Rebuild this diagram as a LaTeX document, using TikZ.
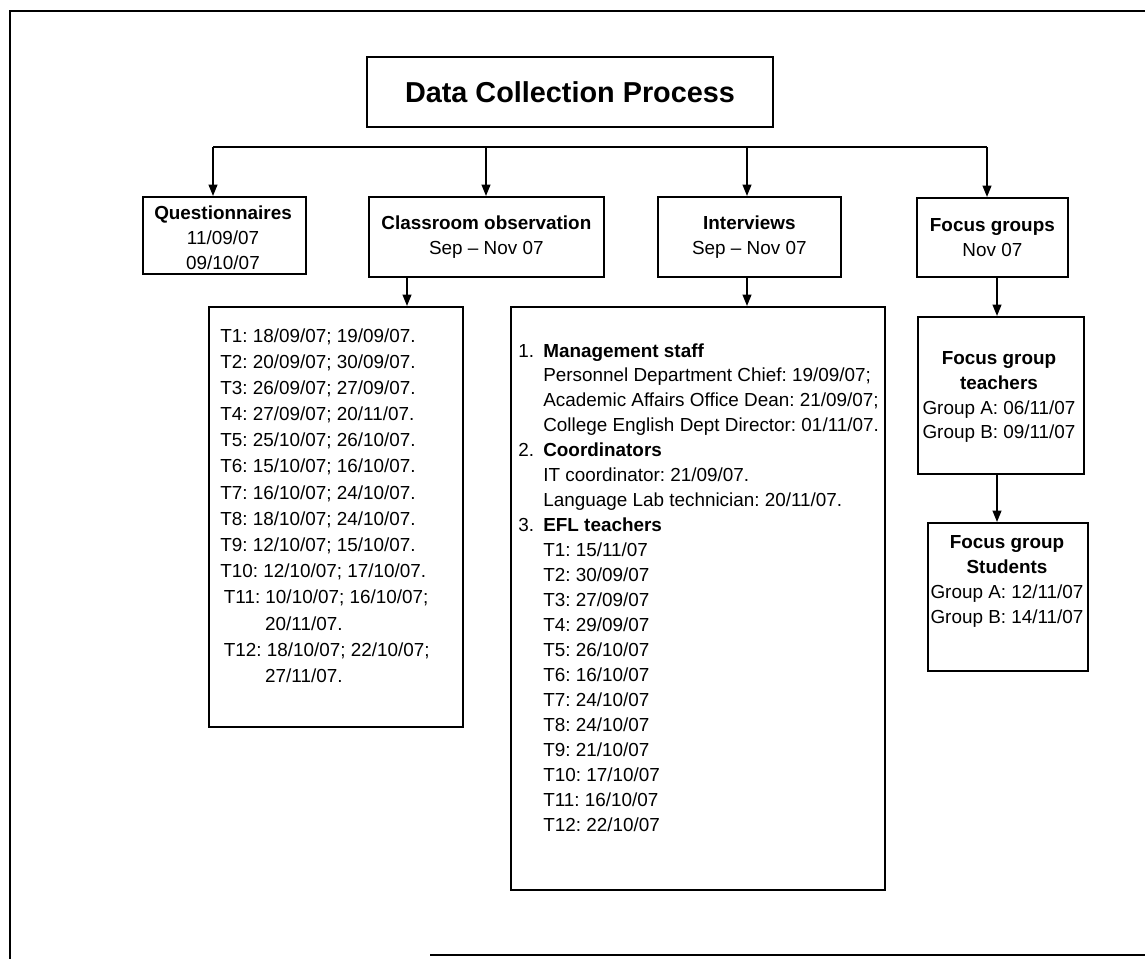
\documentclass[tikz,border=0pt]{standalone}
\usepackage{fontspec}
\setmainfont{Liberation Sans}
\usetikzlibrary{arrows.meta}
\frenchspacing
\begin{document}
\begin{tikzpicture}[x=0.02cm,y=-0.02cm,
  every node/.style={font=\fontsize{10.75}{14.2}\selectfont\frenchspacing},
  box/.style={draw,line width=1pt,inner sep=0pt,anchor=north west,align=center},
  conn/.style={line width=1pt},
  arr/.style={line width=1pt,-{Triangle[length=6.5pt,width=5pt]}},
  lst/.style={align=left,anchor=north west,inner sep=0pt},
  frame/.style={line width=1.4pt}]
\useasboundingbox (0,0) rectangle (1145,959);
% outer frame (cropped)
\draw[frame] (1145,11) -- (10,11) -- (10,959);
\draw[frame] (430,955) -- (1145,955);

% title
\node[draw,line width=1pt,minimum width=8.12cm,minimum height=1.4cm,inner sep=0pt,
      font=\fontsize{16.4}{20}\selectfont\bfseries] (title) at (570,92) {Data Collection Process};

% second-level boxes
\node[box,minimum width=3.26cm,minimum height=1.54cm] (q) at (142,196) {};
\node[align=center,inner sep=0pt] (qt) at (223,238)
  {\textbf{Questionnaires}\\11/09/07\\09/10/07};
\node[box,minimum width=4.70cm,minimum height=1.6cm] (cl) at (368,196)
  {\textbf{Classroom observation}\\Sep -- Nov 07};
\node[box,minimum width=3.66cm,minimum height=1.6cm] (iv) at (657,196)
  {\textbf{Interviews}\\Sep -- Nov 07};
\node[box,minimum width=3.02cm,minimum height=1.58cm] (fg) at (916,197)
  {\textbf{Focus groups}\\Nov 07};

% bar and arrows
\coordinate (b1) at (213,147);
\coordinate (b2) at (486,147);
\coordinate (b3) at (747,147);
\coordinate (b4) at (987,147);
\draw[conn] (b1) -- (b4);
\draw[arr] (b1) -- (b1 |- q.north);
\draw[arr] (b2) -- (b2 |- cl.north);
\draw[arr] (b3) -- (b3 |- iv.north);
\draw[arr] (b4) -- (b4 |- fg.north);

% list boxes
\node[box,minimum width=5.08cm,minimum height=8.4cm] (cll) at (208,306) {};
\node[box,minimum width=7.48cm,minimum height=11.66cm] (ivl) at (510,306) {};
\node[box,minimum width=3.32cm,minimum height=3.14cm] (fgt) at (917,316) {};
\node[align=center,inner sep=0pt] (fgtt) at (999,397)
  {\textbf{Focus group}\\\textbf{teachers}\\Group A: 06/11/07\\Group B: 09/11/07};
\node[box,minimum width=3.2cm,minimum height=2.96cm] (fgs) at (927,522) {};

\coordinate (ca) at (407,0);
\coordinate (ia) at (747,0);
\coordinate (fa) at (997,0);
\draw[arr] (ca |- cl.south) -- (ca |- cll.north);
\draw[arr] (ia |- iv.south) -- (ia |- ivl.north);
\draw[arr] (fa |- fg.south) -- (fa |- fgt.north);
\draw[arr] (fa |- fgt.south) -- (fa |- fgs.north);

% list texts
\node[lst,font=\fontsize{10.75}{14.9}\selectfont\frenchspacing] (clt) at (220,328) {%
T1: 18/09/07; 19/09/07.\\
T2: 20/09/07; 30/09/07.\\
T3: 26/09/07; 27/09/07.\\
T4: 27/09/07; 20/11/07.\\
T5: 25/10/07; 26/10/07.\\
T6: 15/10/07; 16/10/07.\\
T7: 16/10/07; 24/10/07.\\
T8: 18/10/07; 24/10/07.\\
T9: 12/10/07; 15/10/07.\\
T10: 12/10/07; 17/10/07.\\
\hspace*{2pt}T11: 10/10/07; 16/10/07;\\
\hspace*{25.5pt}20/11/07.\\
\hspace*{2pt}T12: 18/10/07; 22/10/07;\\
\hspace*{25.5pt}27/11/07.};

\node[lst] (ivt) at (518,343) {%
\makebox[14.2pt][l]{1.}\textbf{Management staff}\\
\hspace*{14.2pt}Personnel Department Chief: 19/09/07;\\
\hspace*{14.2pt}Academic Affairs Office Dean: 21/09/07;\\
\hspace*{14.2pt}College English Dept Director: 01/11/07.\\
\makebox[14.2pt][l]{2.}\textbf{Coordinators}\\
\hspace*{14.2pt}IT coordinator: 21/09/07.\\
\hspace*{14.2pt}Language Lab technician: 20/11/07.\\
\makebox[14.2pt][l]{3.}\textbf{EFL teachers}\\
\hspace*{14.2pt}T1: 15/11/07\\
\hspace*{14.2pt}T2: 30/09/07\\
\hspace*{14.2pt}T3: 27/09/07\\
\hspace*{14.2pt}T4: 29/09/07\\
\hspace*{14.2pt}T5: 26/10/07\\
\hspace*{14.2pt}T6: 16/10/07\\
\hspace*{14.2pt}T7: 24/10/07\\
\hspace*{14.2pt}T8: 24/10/07\\
\hspace*{14.2pt}T9: 21/10/07\\
\hspace*{14.2pt}T10: 17/10/07\\
\hspace*{14.2pt}T11: 16/10/07\\
\hspace*{14.2pt}T12: 22/10/07};

\node[align=center,anchor=north,inner sep=0pt] (fgst) at (1007,535)
  {\textbf{Focus group}\\\textbf{Students}\\Group A: 12/11/07\\Group B: 14/11/07};
\end{tikzpicture}
\end{document}
